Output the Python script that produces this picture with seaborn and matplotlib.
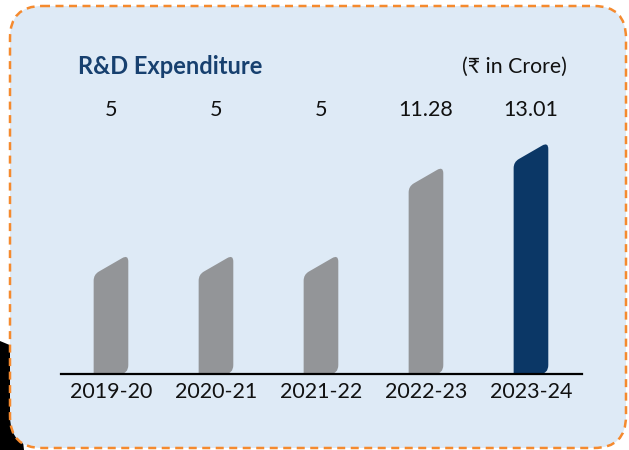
import numpy as np
import pandas as pd
import matplotlib
matplotlib.use("Agg")
import matplotlib.pyplot as plt
import seaborn as sns
from matplotlib.path import Path
from matplotlib.patches import PathPatch, FancyBboxPatch, Polygon
from matplotlib.transforms import IdentityTransform

years = ["2019-20", "2020-21", "2021-22", "2022-23", "2023-24"]
spend = [5, 5, 5, 11.28, 13.01]
labels = ["5", "5", "5", "11.28", "13.01"]
bar_colors = ["#939598", "#939598", "#939598", "#939598", "#0b3766"]

sns.set_style("white")
plt.rcParams["font.family"] = ["Lato", "Noto Sans", "DejaVu Sans"]

W, H = 629, 450
fig = plt.figure(figsize=(W / 100, H / 100), dpi=100)
fig.patch.set_facecolor("white")

# background panel in pixel units
bg = fig.add_axes([0, 0, 1, 1], zorder=0)
bg.set_xlim(0, W)
bg.set_ylim(H, 0)
bg.axis("off")
bg.add_patch(Polygon([(0, 341), (12, 346), (24, 450), (0, 450)], closed=True,
                     facecolor="black", edgecolor="none"))
bg.add_patch(FancyBboxPatch((10, 6), 616, 442, boxstyle="round,pad=0,rounding_size=32",
                            facecolor="#deeaf6", edgecolor="#f58a2e", linewidth=1.8,
                            linestyle=(0, (3.2, 2.2))))
bg.text(78, 67, "R&D Expenditure", fontsize=17, fontweight="bold", color="#17406f",
        ha="left", va="center")
bg.text(567, 67, "(₹ in Crore)", fontsize=15.3, color="#111111", ha="right", va="center")

# main axes
base_px, top_px = 374, 100
ax = fig.add_axes([61 / W, (H - base_px) / H, 521 / W, (base_px - top_px) / H], zorder=1)
ax.set_facecolor("none")

df = pd.DataFrame({"year": years, "spend": spend})
sns.barplot(data=df, x="year", y="spend", hue="year", palette=dict(zip(years, bar_colors)),
            width=0.33, saturation=1, legend=False, ax=ax)

ymin, ymax = -3.5, 16.0
ax.set_ylim(ymin, ymax)
ax.set_xlim(-0.476, 4.486)


def slanted_bar(x0, x1, yb, yt, drop=20, r_top=7, r_left=6, r_bot=9):
    yl = yt - drop
    v = np.array([x0 - x1, yl - yt], dtype=float)
    u = v / np.hypot(*v)
    tr_in = (x1, yt - r_top)
    tr_out = (x1 + u[0] * r_top, yt + u[1] * r_top)
    tl_in = (x0 - u[0] * r_left, yl - u[1] * r_left)
    tl_out = (x0, yl - r_left)
    verts = [(x0, yb), (x1 - r_bot, yb), (x1, yb), (x1, yb + r_bot),
             tr_in, (x1, yt), tr_out,
             tl_in, (x0, yl), tl_out,
             (x0, yb), (x0, yb)]
    codes = [Path.MOVETO, Path.LINETO, Path.CURVE3, Path.CURVE3,
             Path.LINETO, Path.CURVE3, Path.CURVE3,
             Path.LINETO, Path.CURVE3, Path.CURVE3,
             Path.LINETO, Path.CLOSEPOLY]
    return Path(verts, codes)


bars = list(ax.patches)
for p in bars:
    x, w, h = p.get_x(), p.get_width(), p.get_height()
    color = p.get_facecolor()
    (px0, pyb), (px1, pyt) = ax.transData.transform([(x, ymin), (x + w, h)])
    ax.add_patch(PathPatch(slanted_bar(px0, px1, pyb, pyt), transform=IdentityTransform(),
                           facecolor=color, edgecolor="none", clip_on=False))
    p.remove()

for i, lab in enumerate(labels):
    ax.text(i, (base_px - 110) / (base_px - top_px), lab, transform=ax.get_xaxis_transform(),
            ha="center", va="center", fontsize=15.5, color="#111111")

for s in ["top", "left", "right"]:
    ax.spines[s].set_visible(False)
ax.spines["bottom"].set_color("black")
ax.spines["bottom"].set_linewidth(1.6)
ax.spines["bottom"].set_zorder(5)
ax.set_yticks([])
ax.set_xlabel("")
ax.set_ylabel("")
ax.tick_params(axis="x", length=0, pad=6, labelsize=15.5, labelcolor="#111111")

fig.savefig("out.png", dpi=100)
